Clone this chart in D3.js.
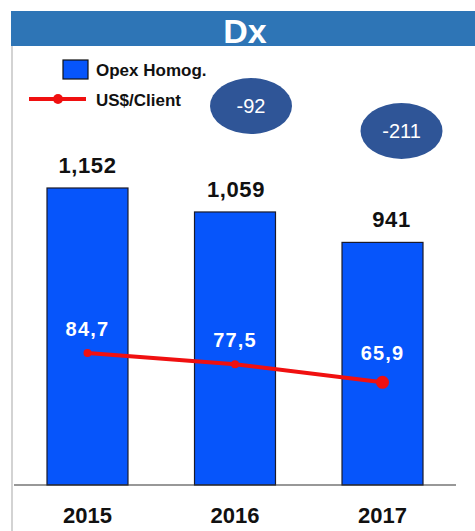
<!DOCTYPE html>
<html>
<head>
<meta charset="utf-8">
<script src="https://cdn.jsdelivr.net/npm/d3@7"></script>
<style>
body { margin: 0; background: #fff; }
svg { display: block; font-family: 'Liberation Sans', Arial, sans-serif; }
</style>
</head>
<body>
<svg width="475" height="531"></svg>
<script>
// Chart data
var years = ['2015', '2016', '2017'];
var opex = [1152, 1059, 941];
var usdClient = [84.7, 77.5, 65.9];
var deltas = [-92, -211];

var svg = d3.select('svg');

// Frame: title band and left border
svg.append('rect')
    .attr('x', 11).attr('y', 11)
    .attr('width', 464).attr('height', 35)
    .attr('fill', '#2e75b6');

svg.append('line')
    .attr('x1', 12).attr('x2', 12)
    .attr('y1', 46).attr('y2', 531)
    .attr('stroke', '#c4c4c4')
    .attr('stroke-width', 1.5);

svg.append('text')
    .attr('x', 245).attr('y', 43)
    .attr('text-anchor', 'middle')
    .attr('fill', '#fff')
    .attr('font-size', 34)
    .attr('font-weight', 'bold')
    .text('Dx');

// Scales
var xScale = d3.scaleBand()
    .domain(years)
    .range([47, 423])
    .paddingInner(0.451)
    .paddingOuter(0);

var yBar = d3.scaleLinear()
    .domain([0, 1152])
    .range([485, 188]);

var yLine = d3.scaleLinear()
    .domain([0, 84.7])
    .range([485, 353]);

var rows = years.map(function(y, i) {
    return {year: y, opex: opex[i], usd: usdClient[i]};
});

// Bars
var chartG = svg.append('g');

chartG.selectAll('.bar')
    .data(rows)
    .enter()
    .append('rect')
    .attr('class', 'bar')
    .attr('x', function(d) { return xScale(d.year); })
    .attr('y', function(d) { return yBar(d.opex); })
    .attr('width', xScale.bandwidth())
    .attr('height', function(d) { return yBar(0) - yBar(d.opex); })
    .attr('fill', '#0655fb')
    .attr('stroke', '#1a1a2a')
    .attr('stroke-width', 1.2);

// Bar value labels
chartG.selectAll('.bar-label')
    .data(rows)
    .enter()
    .append('text')
    .attr('class', 'bar-label')
    .attr('x', function(d, i) { return xScale(d.year) + xScale.bandwidth() / 2 + (i == 2 ? 9 : i); })
    .attr('y', function(d) { return yBar(d.opex) - 15; })
    .attr('text-anchor', 'middle')
    .attr('font-size', 22)
    .attr('font-weight', 'bold')
    .attr('letter-spacing', 0.6)
    .attr('fill', '#111')
    .text(function(d) { return d3.format(',')(d.opex); });

// Baseline and year axis
svg.append('line')
    .attr('x1', 14).attr('x2', 456)
    .attr('y1', 485).attr('y2', 485)
    .attr('stroke', '#333')
    .attr('stroke-width', 1.2);

var axis = svg.append('g')
    .attr('transform', 'translate(0,485)')
    .call(d3.axisBottom(xScale).tickSize(0).tickPadding(22));
axis.select('.domain').remove();
axis.selectAll('text')
    .attr('font-family', "'Liberation Sans', Arial, sans-serif")
    .attr('font-size', 22)
    .attr('font-weight', 'bold')
    .attr('fill', '#111');

// US$/Client line
var line = d3.line()
    .x(function(d) { return xScale(d.year) + xScale.bandwidth() / 2; })
    .y(function(d) { return yLine(d.usd); });

chartG.append('path')
    .datum(rows)
    .attr('d', line)
    .attr('fill', 'none')
    .attr('stroke', '#f01010')
    .attr('stroke-width', 4);

chartG.selectAll('.dot')
    .data(rows)
    .enter()
    .append('circle')
    .attr('class', 'dot')
    .attr('cx', function(d) { return xScale(d.year) + xScale.bandwidth() / 2; })
    .attr('cy', function(d) { return yLine(d.usd); })
    .attr('r', function(d, i) { return i == 2 ? 6.5 : 4; })
    .attr('fill', '#f01010');

chartG.selectAll('.dot-label')
    .data(rows)
    .enter()
    .append('text')
    .attr('class', 'dot-label')
    .attr('x', function(d) { return xScale(d.year) + xScale.bandwidth() / 2; })
    .attr('y', function(d, i) { return yLine(d.usd) - (i == 2 ? 22 : 17); })
    .attr('text-anchor', 'middle')
    .attr('font-size', 20)
    .attr('font-weight', 'bold')
    .attr('letter-spacing', 1.2)
    .attr('fill', '#fff')
    .text(function(d) { return d3.format('.1f')(d.usd).replace('.', ','); });

// Delta bubbles, over the 2016 and 2017 bars
var bubbles = svg.selectAll('.bubble')
    .data(deltas)
    .enter()
    .append('g')
    .attr('class', 'bubble')
    .attr('transform', function(d, i) {
        var cx = xScale(years[i + 1]) + xScale.bandwidth() / 2 + 16 + i * 3;
        return 'translate(' + [cx, 106 + i * 25] + ')';
    });

bubbles.append('ellipse')
    .attr('rx', 41)
    .attr('ry', 28)
    .attr('fill', '#2f5597');

bubbles.append('text')
    .attr('y', 7)
    .attr('text-anchor', 'middle')
    .attr('font-size', 20)
    .attr('fill', '#fff')
    .text(function(d) { return d; });

// Legend
var legend = svg.append('g');

legend.append('rect')
    .attr('x', 63).attr('y', 60)
    .attr('width', 25).attr('height', 19)
    .attr('fill', '#0655fb')
    .attr('stroke', '#111')
    .attr('stroke-width', 1.2);

legend.append('text')
    .attr('x', 96).attr('y', 76)
    .attr('font-size', 17)
    .attr('font-weight', 'bold')
    .attr('fill', '#111')
    .text('Opex Homog.');

legend.append('line')
    .attr('x1', 29).attr('x2', 86)
    .attr('y1', 99).attr('y2', 99)
    .attr('stroke', '#f01010')
    .attr('stroke-width', 4);

legend.append('circle')
    .attr('cx', 58).attr('cy', 99)
    .attr('r', 5)
    .attr('fill', '#f01010');

legend.append('text')
    .attr('x', 96).attr('y', 106)
    .attr('font-size', 17)
    .attr('font-weight', 'bold')
    .attr('fill', '#111')
    .text('US$/Client');
</script>
</body>
</html>
